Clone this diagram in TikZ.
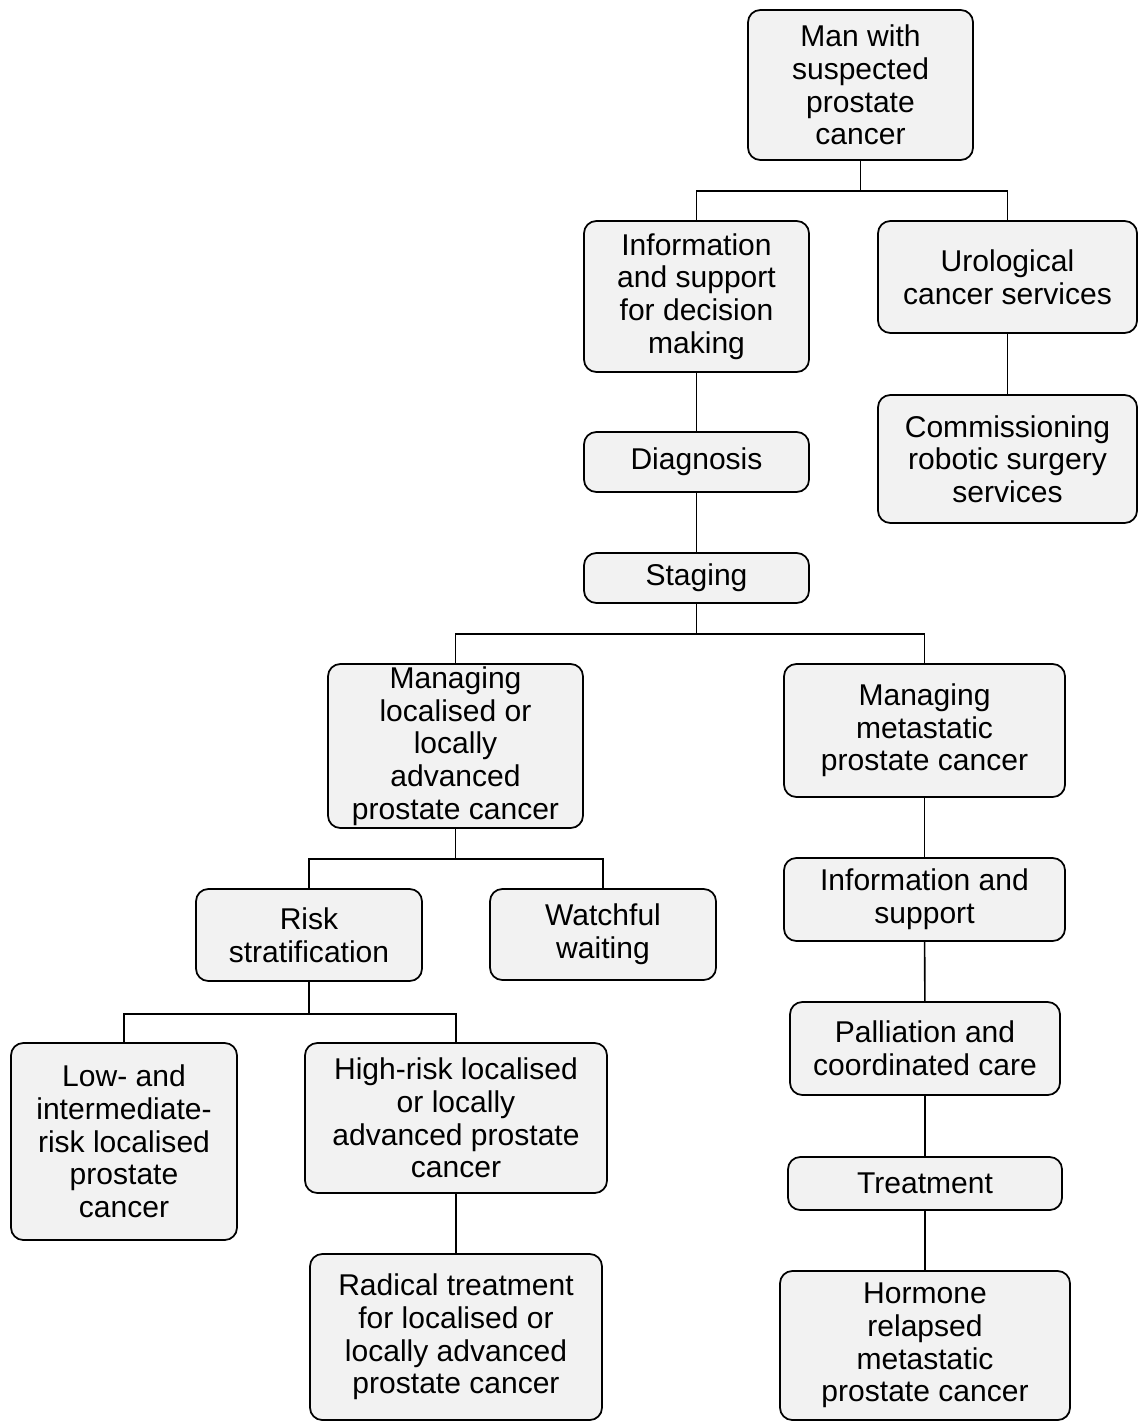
\documentclass[tikz,border=0pt]{standalone}
\usepackage{fontspec}
\setmainfont{Liberation Sans}
\definecolor{boxfill}{HTML}{F2F2F2}
\tikzset{
  box/.style={draw=black, line width=1pt, fill=boxfill, rounded corners=7pt, align=center, inner sep=0pt,
    font=\fontsize{17.1}{18.6}\selectfont},
  link/.style={draw=black, line width=0.9pt}
}
\newcommand\bx[6]{\node[box, minimum width={0.02cm*(#4-#2)}, minimum height={0.02cm*(#5-#3)}] (#1) at ({(#2+#4)/2},{(#3+#5)/2}) {#6};}
\begin{document}
\begin{tikzpicture}[x=0.02cm, y=-0.02cm]
\useasboundingbox (0,0) rectangle (1138,1422);
\bx{man}{748}{10}{973}{160}{Man with\\suspected\\prostate\\cancer}
\bx{info}{584}{221}{809}{372}{Information\\and support\\for decision\\making}
\bx{uro}{878}{221}{1137}{333}{Urological\\cancer services}
\bx{robot}{878}{395}{1137}{523}{Commissioning\\robotic surgery\\services}
\bx{diag}{584}{432}{809}{492}{Diagnosis}
\bx{stag}{584}{553}{809}{603}{Staging}
\bx{loc}{328}{664}{583}{828}{Managing\\localised or\\locally\\advanced\\prostate cancer}
\bx{meta}{784}{664}{1065}{797}{Managing\\metastatic\\prostate cancer}
\bx{risk}{196}{889}{422}{981}{Risk\\stratification}
\bx{watch}{490}{889}{716}{980}{Watchful\\waiting}
\bx{infs}{784}{858}{1065}{941}{Information and\\support}
\bx{pall}{790}{1002}{1060}{1095}{Palliation and\\coordinated care}
\bx{treat}{788}{1157}{1062}{1210}{Treatment}
\bx{horm}{780}{1271}{1070}{1420}{Hormone\\relapsed\\metastatic\\prostate cancer}
\bx{low}{11}{1043}{237}{1240}{Low- and\\intermediate-\\risk localised\\prostate\\cancer}
\bx{high}{305}{1043}{607}{1193}{High-risk localised\\or locally\\advanced prostate\\cancer}
\bx{rad}{310}{1254}{602}{1420}{Radical treatment\\for localised or\\locally advanced\\prostate cancer}
\draw[link] (man.south) -- ++(0,30) -| (info.north);
\draw[link] (man.south) -- ++(0,30) -| (uro.north);
\draw[link] (uro) -- (robot);
\draw[link] (info) -- (diag);
\draw[link] (diag) -- (stag);
\draw[link] (stag.south) -- ++(0,30) -| (loc.north);
\draw[link] (stag.south) -- ++(0,30) -| (meta.north);
\draw[link] (loc.south) -- ++(0,30) -| (risk.north);
\draw[link] (loc.south) -- ++(0,30) -| (watch.north);
\draw[link] (risk.south) -- ++(0,32) -| (low.north);
\draw[link] (risk.south) -- ++(0,32) -| (high.north);
\draw[link] (high) -- (rad);
\draw[link] (meta) -- (infs);
\draw[link] (infs) -- (pall);
\draw[link] (pall) -- (treat);
\draw[link] (treat) -- (horm);
\end{tikzpicture}
\end{document}
